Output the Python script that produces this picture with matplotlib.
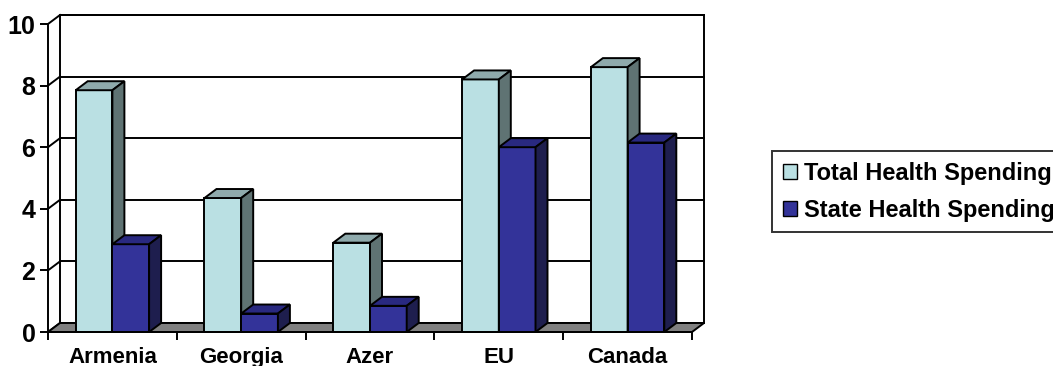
import matplotlib
matplotlib.use("Agg")
import matplotlib.pyplot as plt
from matplotlib.patches import Polygon, Patch

categories = ["Armenia", "Georgia", "Azer", "EU", "Canada"]
total_spending = [7.85, 4.35, 2.9, 8.2, 8.6]
state_spending = [2.85, 0.6, 0.85, 6.0, 6.15]
series_names = ["Total Health Spending", "State Health Spending"]
y_ticks = [0, 2, 4, 6, 8, 10]

FONT = "Liberation Sans"
W, H, DPI = 1053, 366, 100
fig = plt.figure(figsize=(W / DPI, H / DPI), dpi=DPI)
fig.patch.set_facecolor("white")

# front plane: x 48..692 px, y 332..24 px
ax = fig.add_axes([48 / W, 34 / H, 644 / W, 308 / H])
n = len(categories)
ax.set_xlim(0, n)
ax.set_ylim(0, 10)
ax.patch.set_visible(False)

# depth offset in data units (~12 px right, ~9 px up)
DX = 12 / (644 / n)
DY = 9 / 30.8
BW = 0.285
LW = 1.4

# back wall
ax.add_patch(Polygon([(DX, DY), (n + DX, DY), (n + DX, 10 + DY), (DX, 10 + DY)],
                     closed=True, facecolor="white", edgecolor="black", lw=LW,
                     clip_on=False, zorder=1))
for v in y_ticks:
    ax.plot([DX, n + DX], [v + DY, v + DY], color="black", lw=LW, clip_on=False, zorder=2)
    ax.plot([0, DX], [v, v + DY], color="black", lw=LW, clip_on=False, zorder=2)

# floor
ax.add_patch(Polygon([(0, 0), (n, 0), (n + DX, DY), (DX, DY)], closed=True,
                     facecolor="#808080", edgecolor="black", lw=LW,
                     clip_on=False, zorder=3))

cols = [("#BAE0E3", "#8FAAAC", "#5F7373"), ("#333399", "#292980", "#1E1E4E")]


def bar3d(x0, h, colset, z):
    front, top, side = colset
    x1 = x0 + BW
    ax.add_patch(Polygon([(x0, 0), (x1, 0), (x1, h), (x0, h)], closed=True,
                         facecolor=front, edgecolor="black", lw=LW, clip_on=False, zorder=z))
    ax.add_patch(Polygon([(x0, h), (x1, h), (x1 + DX, h + DY), (x0 + DX, h + DY)], closed=True,
                         facecolor=top, edgecolor="black", lw=LW, clip_on=False, zorder=z))
    ax.add_patch(Polygon([(x1, 0), (x1 + DX, DY), (x1 + DX, h + DY), (x1, h)], closed=True,
                         facecolor=side, edgecolor="black", lw=LW, clip_on=False, zorder=z))


z = 4
for i in range(n):
    c = i + 0.5
    bar3d(c - BW, total_spending[i], cols[0], z)
    z += 1
    bar3d(c, state_spending[i], cols[1], z)
    z += 1

# axes lines / ticks
for s in ["top", "right"]:
    ax.spines[s].set_visible(False)
for s in ["left", "bottom"]:
    ax.spines[s].set_linewidth(LW)
    ax.spines[s].set_zorder(50)
ax.set_yticks(y_ticks)
ax.set_yticklabels([str(v) for v in y_ticks], fontsize=18, fontweight="bold", family=FONT)
ax.tick_params(axis="y", direction="out", length=6, width=LW, pad=3)
ax.set_xticks(range(n + 1))
ax.set_xticklabels([""] * (n + 1))
ax.tick_params(axis="x", which="major", direction="out", length=6, width=LW)
ax.set_xticks([i + 0.5 for i in range(n)], minor=True)
ax.set_xticklabels(categories, minor=True, fontsize=16, fontweight="bold", family=FONT)
ax.tick_params(axis="x", which="minor", length=0, pad=11)

handles = [Patch(facecolor=cols[0][0], edgecolor="black", lw=1.0),
           Patch(facecolor=cols[1][0], edgecolor="black", lw=1.0)]
leg = fig.legend(handles, series_names, loc="upper left",
                 bbox_to_anchor=(772 / W, 1 - 151 / H), borderaxespad=0,
                 prop={"family": FONT, "weight": "bold", "size": 17},
                 frameon=True, fancybox=False, edgecolor="black",
                 handlelength=0.62, handleheight=0.62, handletextpad=0.3,
                 labelspacing=0.6, borderpad=0.45)
leg.get_frame().set_linewidth(LW)

fig.savefig("out.png", dpi=DPI, facecolor="white")
